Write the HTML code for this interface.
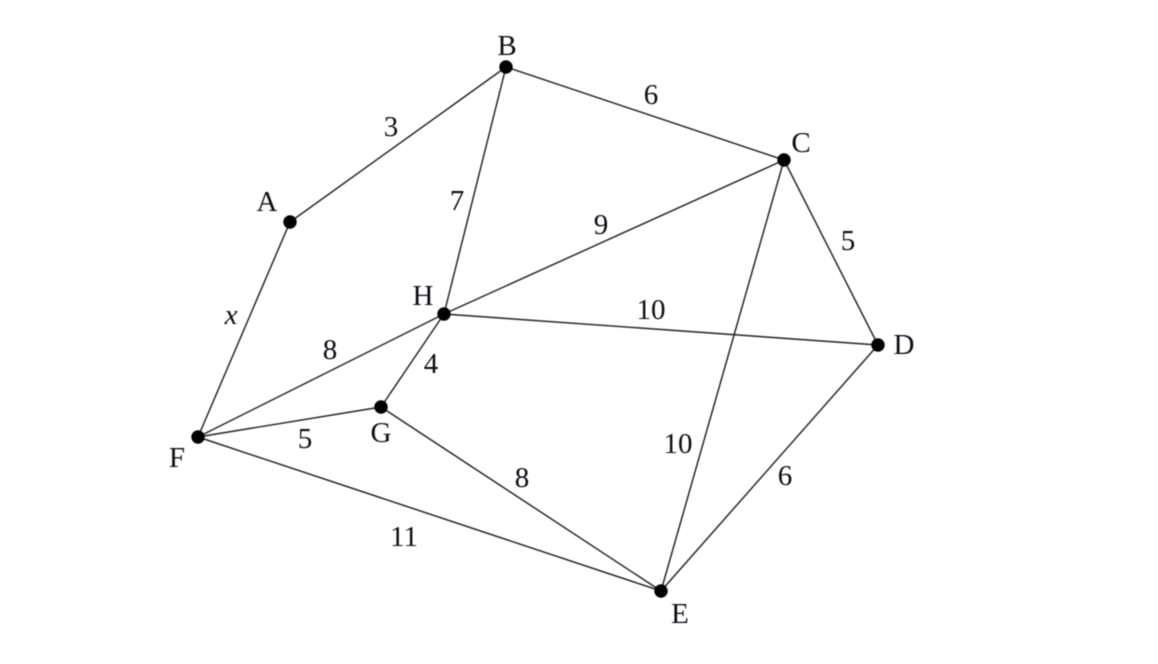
<!DOCTYPE html>
<html>
<head>
<meta charset="utf-8">
<style>
html,body{margin:0;padding:0;background:#fff;width:1158px;height:664px;overflow:hidden}
svg{display:block;filter:blur(0.4px)}
text{font-family:"Liberation Serif",serif;font-size:29px;fill:#0c0c14;text-anchor:middle}
line{stroke:#222;stroke-width:1.45}
</style>
</head>
<body>
<svg width="1158" height="664" viewBox="0 0 1158 664" xmlns="http://www.w3.org/2000/svg">
<line x1="290" y1="222" x2="506" y2="67"/>
<line x1="506" y1="67" x2="784" y2="160"/>
<line x1="506" y1="67" x2="444" y2="314"/>
<line x1="290" y1="222" x2="198" y2="437"/>
<line x1="784" y1="160" x2="444" y2="314"/>
<line x1="784" y1="160" x2="878" y2="345"/>
<line x1="784" y1="160" x2="661" y2="591"/>
<line x1="444" y1="314" x2="878" y2="345"/>
<line x1="444" y1="314" x2="198" y2="437"/>
<line x1="444" y1="314" x2="381" y2="407"/>
<line x1="198" y1="437" x2="381" y2="407"/>
<line x1="198" y1="437" x2="661" y2="591"/>
<line x1="381" y1="407" x2="661" y2="591"/>
<line x1="878" y1="345" x2="661" y2="591"/>
<g fill="#000">
<circle cx="506" cy="67" r="6.7"/>
<circle cx="784" cy="160" r="6.7"/>
<circle cx="290" cy="222" r="6.7"/>
<circle cx="444" cy="314" r="6.7"/>
<circle cx="878" cy="345" r="6.7"/>
<circle cx="381" cy="407" r="6.7"/>
<circle cx="198" cy="437" r="6.7"/>
<circle cx="661" cy="591" r="6.7"/>
</g>
<text x="507" y="55">B</text>
<text x="801" y="152">C</text>
<text x="267" y="211">A</text>
<text x="423" y="305">H</text>
<text x="904" y="354">D</text>
<text x="381" y="442">G</text>
<text x="177" y="467">F</text>
<text x="680" y="623">E</text>
<text x="391" y="136">3</text>
<text x="651" y="104">6</text>
<text x="457" y="210">7</text>
<text x="601" y="234">9</text>
<text x="848" y="250">5</text>
<text x="651" y="319">10</text>
<text x="231" y="324" font-style="italic">x</text>
<text x="330" y="359">8</text>
<text x="431" y="373">4</text>
<text x="305" y="448">5</text>
<text x="678" y="453">10</text>
<text x="522" y="487">8</text>
<text x="785" y="485">6</text>
<text x="404" y="546">11</text>
</svg>
</body>
</html>
